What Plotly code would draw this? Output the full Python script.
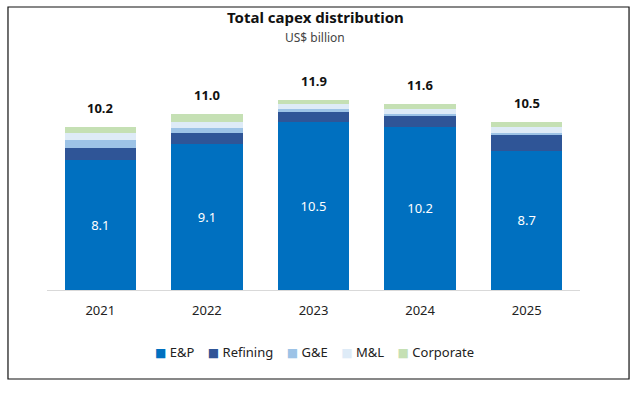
import plotly.graph_objects as go

years = ["2021", "2022", "2023", "2024", "2025"]
ep = [8.1, 9.1, 10.5, 10.2, 8.7]
refining = [0.8, 0.7, 0.6, 0.7, 1.0]
ge = [0.5, 0.3, 0.2, 0.1, 0.1]
ml = [0.4, 0.4, 0.3, 0.3, 0.4]
corporate = [0.4, 0.5, 0.3, 0.3, 0.3]
totals = [10.2, 11.0, 11.9, 11.6, 10.5]

series_names = ["E&P", "Refining", "G&E", "M&L", "Corporate"]
series_values = [ep, refining, ge, ml, corporate]
series_colors = ["#0070C0", "#2F5597", "#9DC3E6", "#DEEBF7", "#C5E0B4"]

FONT = "Noto Sans"
fig = go.Figure()
for i, (name, vals, color) in enumerate(zip(series_names, series_values, series_colors)):
    show_text = i == 0
    fig.add_trace(go.Bar(
        name=name, x=years, y=vals,
        marker=dict(color=color, line=dict(width=0)),
        text=[f"{v:.1f}" for v in vals] if show_text else None,
        textposition="inside" if show_text else "none",
        insidetextanchor="middle",
        textfont=dict(color="white", size=13, family=FONT),
        hoverinfo="skip", showlegend=False,
    ))

annotations = []
for idx, t in enumerate(totals):
    annotations.append(dict(
        x=idx, y=t, xref="x", yref="y", text=f"<b>{t:.1f}</b>",
        showarrow=False, yanchor="bottom", yshift=8,
        font=dict(size=13, color="#111111", family=FONT),
    ))

legend_parts = []
for name, color in zip(series_names, series_colors):
    legend_parts.append(
        f"<span style='color:{color};font-family:DejaVu Sans;font-size:12px'>■</span>&nbsp;{name}"
    )
legend_text = "&nbsp;&nbsp;&nbsp;&nbsp;".join(legend_parts)

fig.update_layout(
    width=637, height=399,
    barmode="stack", bargap=0.33,
    plot_bgcolor="white", paper_bgcolor="white",
    margin=dict(l=47, r=57, t=80, b=109, autoexpand=False),
    font=dict(family=FONT, size=13, color="#222222"),
    showlegend=False,
    xaxis=dict(type="category", showgrid=False, showline=True, linecolor="#D9D9D9", linewidth=1,
               ticks="", ticklabelstandoff=8,
               tickfont=dict(size=13, color="#222222"), automargin=False),
    yaxis=dict(visible=False, range=[0, 13.125], automargin=False),
    annotations=annotations + [
        dict(x=0.503, y=(290 - 17) / 210, xref="paper", yref="paper",
             text="<b>Total capex distribution</b>", showarrow=False,
             xanchor="center", yanchor="middle",
             font=dict(size=15, color="#111111", family=FONT)),
        dict(x=0.503, y=(290 - 37) / 210, xref="paper", yref="paper",
             text="US$ billion", showarrow=False,
             xanchor="center", yanchor="middle",
             font=dict(size=12, color="#444444", family=FONT)),
        dict(x=(314 - 47) / 533, y=(290 - 352) / 210, xref="paper", yref="paper",
             text=legend_text, showarrow=False,
             xanchor="center", yanchor="middle",
             font=dict(size=13, color="#222222", family=FONT)),
    ],
    shapes=[dict(type="rect", xref="paper", yref="paper",
                 x0=-0.0732, x1=1.092, y0=-0.4238, y1=1.3476,
                 line=dict(color="#111111", width=1.2), fillcolor="rgba(0,0,0,0)")],
)

fig.write_html("out.html", config={"displayModeBar": False},
               post_script="document.body.style.margin='0';document.body.style.overflow='hidden';")
